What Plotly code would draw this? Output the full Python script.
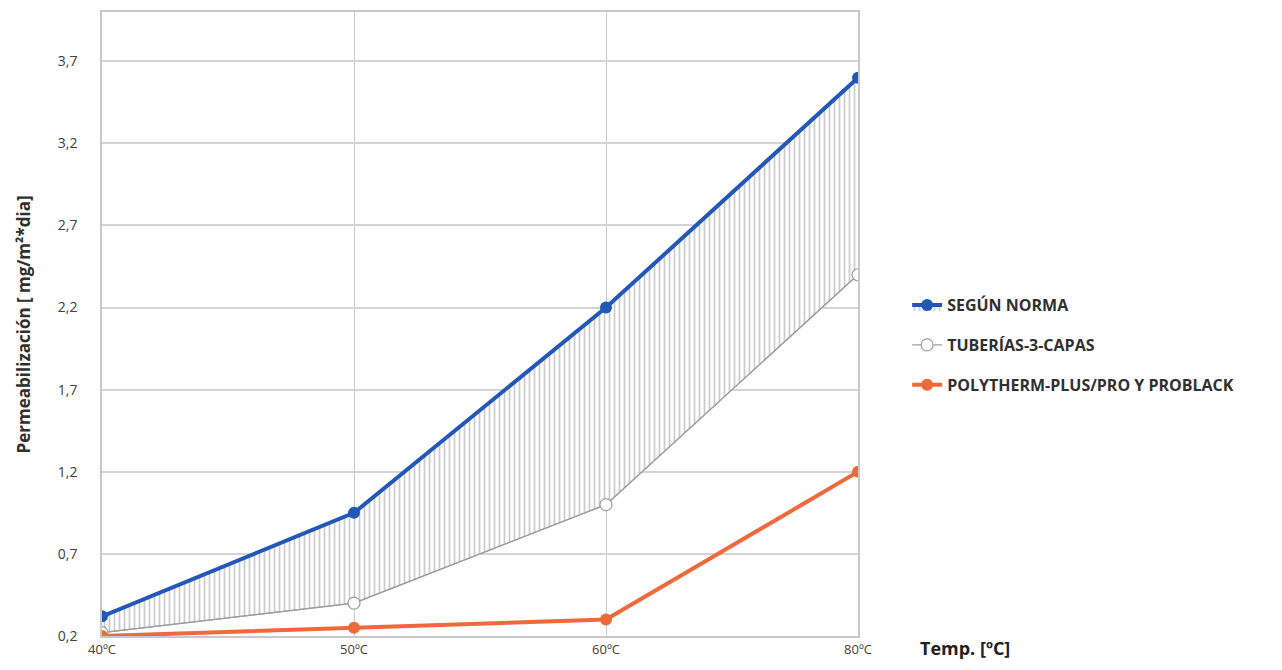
import plotly.graph_objects as go

categories = ["40ºC", "50ºC", "60ºC", "80ºC"]
segun_norma = [0.32, 0.95, 2.20, 3.60]
tuberias_3_capas = [0.22, 0.40, 1.00, 2.40]
polytherm = [0.20, 0.25, 0.30, 1.20]
y_ticks = [0.2, 0.7, 1.2, 1.7, 2.2, 2.7, 3.2, 3.7]
y_tick_labels = ["0,2", "0,7", "1,2", "1,7", "2,2", "2,7", "3,2", "3,7"]

BLUE = "#2357b8"
GRAY = "#9e9e9e"
ORANGE = "#ee6a3d"
FONT = "Open Sans"

fig = go.Figure()

# base for hatch fill (gray series line, no legend)
fig.add_trace(go.Scatter(
    x=categories, y=tuberias_3_capas, mode="lines",
    line=dict(color=GRAY, width=1.2), showlegend=False, hoverinfo="skip",
    legendgroup="z"))

fig.add_trace(go.Scatter(
    x=categories, y=segun_norma, mode="lines+markers", name="SEGÚN NORMA",
    fill="tonexty", fillcolor="rgba(0,0,0,0)",
    fillpattern=dict(shape="|", fgcolor="#9a9a9a", bgcolor="white", size=5, solidity=0.35),
    line=dict(color=BLUE, width=4),
    marker=dict(color=BLUE, size=12), legendgroup="a", legendrank=1))

fig.add_trace(go.Scatter(
    x=categories, y=tuberias_3_capas, mode="lines+markers", name="TUBERÍAS-3-CAPAS",
    line=dict(color=GRAY, width=1.2),
    marker=dict(color="white", size=12, line=dict(color=GRAY, width=1.2)),
    legendgroup="b", legendrank=2))

fig.add_trace(go.Scatter(
    x=categories, y=polytherm, mode="lines+markers", name="POLYTHERM-PLUS/PRO Y PROBLACK",
    line=dict(color=ORANGE, width=4),
    marker=dict(color=ORANGE, size=12), legendgroup="c", legendrank=3))

fig.update_layout(
    width=1266, height=654,
    margin=dict(l=94, r=416, t=4, b=26),
    paper_bgcolor="white", plot_bgcolor="white",
    font=dict(family=FONT, color="#404040"),
    legend=dict(x=1.065, y=0.466, xanchor="left", yanchor="middle",
                traceorder="grouped", tracegroupgap=16,
                font=dict(size=16, color="#303030", family=FONT, weight="bold"),
                bgcolor="rgba(0,0,0,0)"),
    xaxis=dict(type="category", range=[0, 3], showgrid=True, gridcolor="#c8c8c8",
               gridwidth=1.2, showline=True, linecolor="#c8c8c8", mirror=True,
               linewidth=1.5, ticks="", zeroline=False, automargin=False,
               ticklabelstandoff=1,
               tickfont=dict(size=13, color="#404040", family=FONT)),
    yaxis=dict(range=[0.2, 4.0], tickvals=y_ticks, ticktext=y_tick_labels,
               showgrid=True, gridcolor="#d4d4d4", gridwidth=2,
               showline=True, linecolor="#c8c8c8", mirror=True, linewidth=1.5,
               zeroline=False, ticks="", automargin=False, ticklabelstandoff=20,
               tickfont=dict(size=14, color="#404040", family=FONT)),
    annotations=[
        dict(text="Temp. [ºC]", xref="paper", yref="paper",
             x=1.079, y=0, yshift=-12, xanchor="left", yanchor="middle",
             showarrow=False,
             font=dict(size=18, color="#202020", family=FONT, weight="bold")),
        dict(text="Permeabilización [ mg/m²*dia]", xref="paper", yref="paper",
             x=-0.104, y=0.5, xanchor="center", yanchor="middle", textangle=-90,
             showarrow=False,
             font=dict(size=17, color="#303030", family=FONT, weight="bold")),
    ],
)

fig.write_html("out.html")
